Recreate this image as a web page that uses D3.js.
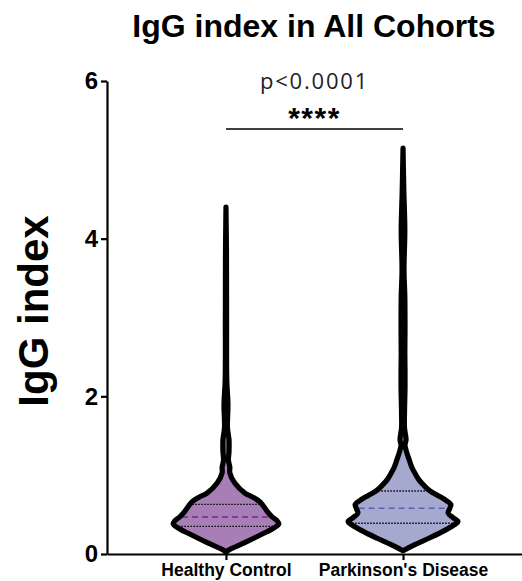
<!doctype html>
<html>
<head>
<meta charset="utf-8">
<script src="https://cdn.jsdelivr.net/npm/d3@7"></script>
<style>
  body { margin: 0; background: #fff; }
  .chart { font-family: 'Liberation Sans', Arial, sans-serif; }
  .axis path, .axis line { stroke: #000; stroke-width: 2.2px; }
  .axis text { font-family: 'Liberation Sans', Arial, sans-serif; font-weight: 700; fill: #000; }
</style>
</head>
<body>
<svg class="chart"></svg>
<script>
const categories = ["Healthy Control", "Parkinson's Disease"]
const yTicks = [0, 2, 4, 6]

// kernel density profiles (value, relative density)
const hcValue = [0.02, 0.05, 0.15, 0.25, 0.33, 0.38, 0.42, 0.47, 0.53, 0.60, 0.66, 0.72, 0.77, 0.90, 1.03, 1.10, 1.19, 1.30, 1.45, 1.60, 1.90, 2.20, 3.00, 3.80, 4.40]
const hcDensity = [0, 0.05, 0.36, 0.65, 0.87, 0.96, 0.93, 0.84, 0.76, 0.69, 0.62, 0.49, 0.35, 0.16, 0.07, 0.07, 0.045, 0.055, 0.055, 0.027, 0.036, 0.015, 0.011, 0.009, 0]

const pdValue = [0.04, 0.10, 0.20, 0.30, 0.37, 0.41, 0.46, 0.52, 0.58, 0.63, 0.68, 0.74, 0.80, 0.87, 0.94, 1.02, 1.10, 1.20, 1.28, 1.38, 1.45, 1.60, 1.80, 2.10, 2.34, 2.55, 2.88, 3.26, 3.60, 4.11, 4.60, 5.15]
const pdDensity = [0, 0.16, 0.47, 0.76, 0.93, 1.0, 0.91, 0.82, 0.85, 0.87, 0.78, 0.64, 0.49, 0.38, 0.29, 0.22, 0.16, 0.11, 0.07, 0.036, 0.055, 0.027, 0.027, 0.036, 0.036, 0.033, 0.036, 0.033, 0.018, 0.033, 0.015, 0]

// Q1, median, Q3
const hcQuartiles = [0.35, 0.47, 0.63]
const pdQuartiles = [0.39, 0.58, 0.80]

const title = "IgG index in All Cohorts"
const yLabel = "IgG index"
const pText = "p<0.0001"
const stars = "****"

const fills = ["#a77fb6", "#a6a9cf"]
const medianColors = ["#6b2d8c", "#5a62b6"]

const W = 522, H = 581
const margin = { left: 107, top: 81, right: 0, bottom: 27 }

const svg = d3.select(".chart").attr("width", W).attr("height", H)

const y = d3.scaleLinear().domain([0, 6]).range([H - margin.bottom, margin.top])
const x = d3.scalePoint().domain(categories).range([margin.left, W - margin.right]).padding(0.672)
const w = d3.scaleLinear().domain([0, 1]).range([0, 55])

const groups = [
  { name: categories[0], value: hcValue, density: hcDensity, q: hcQuartiles },
  { name: categories[1], value: pdValue, density: pdDensity, q: pdQuartiles }
]

function widthAt(g, v) {
  const i = d3.bisectLeft(g.value, v)
  const t = (v - g.value[i - 1]) / (g.value[i] - g.value[i - 1])
  return w(g.density[i - 1] + t * (g.density[i] - g.density[i - 1]))
}

groups.forEach(function(g, gi) {
  const cx = x(g.name)
  const pts = g.value.map((v, i) => ({ v: v, d: g.density[i] }))
  const area = d3.area()
    .y(d => y(d.v))
    .x0(d => cx - w(d.d))
    .x1(d => cx + w(d.d))
    .curve(d3.curveCatmullRom)

  svg.append("path").datum(pts)
    .attr("d", area)
    .attr("fill", fills[gi])

  g.q.forEach(function(qv, qi) {
    const hw = widthAt(g, qv) - 2.3
    svg.append("line")
      .attr("x1", cx - hw).attr("x2", cx + hw)
      .attr("y1", y(qv)).attr("y2", y(qv))
      .attr("stroke", qi === 1 ? medianColors[gi] : "#000")
      .attr("stroke-width", qi === 1 ? 1.6 : 1.4)
      .attr("stroke-dasharray", qi === 1 ? "6,4" : "1.5,1.5")
  })

  svg.append("path").datum(pts)
    .attr("d", area)
    .attr("fill", "none")
    .attr("stroke", "#000")
    .attr("stroke-width", 5.2)
    .attr("stroke-linejoin", "round")
})

// axes
svg.append("g").attr("class", "axis")
  .attr("transform", "translate(0," + y(0) + ")")
  .call(d3.axisBottom(x).tickSize(6).tickSizeOuter(0))
  .call(g => g.selectAll("text").attr("font-size", 17.5).attr("y", 22).attr("dy", 0))

svg.append("g").attr("class", "axis")
  .attr("transform", "translate(" + margin.left + ",0)")
  .call(d3.axisLeft(y).tickValues(yTicks).tickFormat(d3.format("d")).tickSize(6).tickSizeOuter(0))
  .call(g => g.selectAll("text").attr("font-size", 24).attr("x", -9))

// titles
svg.append("text")
  .attr("x", 314).attr("y", 37)
  .attr("text-anchor", "middle")
  .attr("font-size", 32).attr("font-weight", 700)
  .text(title)

svg.append("text")
  .attr("transform", "translate(48," + 311 + ") rotate(-90)")
  .attr("text-anchor", "middle")
  .attr("font-size", 42).attr("font-weight", 700)
  .text(yLabel)

// significance bracket
const x1 = x(categories[0]), x2 = x(categories[1]), mid = (x1 + x2) / 2
svg.append("line")
  .attr("x1", x1).attr("x2", x2)
  .attr("y1", 129).attr("y2", 129)
  .attr("stroke", "#000").attr("stroke-width", 1.6)

svg.append("text")
  .attr("x", mid).attr("y", 128)
  .attr("text-anchor", "middle")
  .attr("font-size", 30).attr("font-weight", 700)
  .attr("letter-spacing", 1.5)
  .text(stars)

svg.append("text")
  .attr("x", mid).attr("y", 89)
  .attr("text-anchor", "middle")
  .attr("font-family", "'Open Sans', sans-serif")
  .attr("font-size", 22).attr("fill", "#222")
  .attr("letter-spacing", 1.8)
  .text(pText)
</script>
</body>
</html>
